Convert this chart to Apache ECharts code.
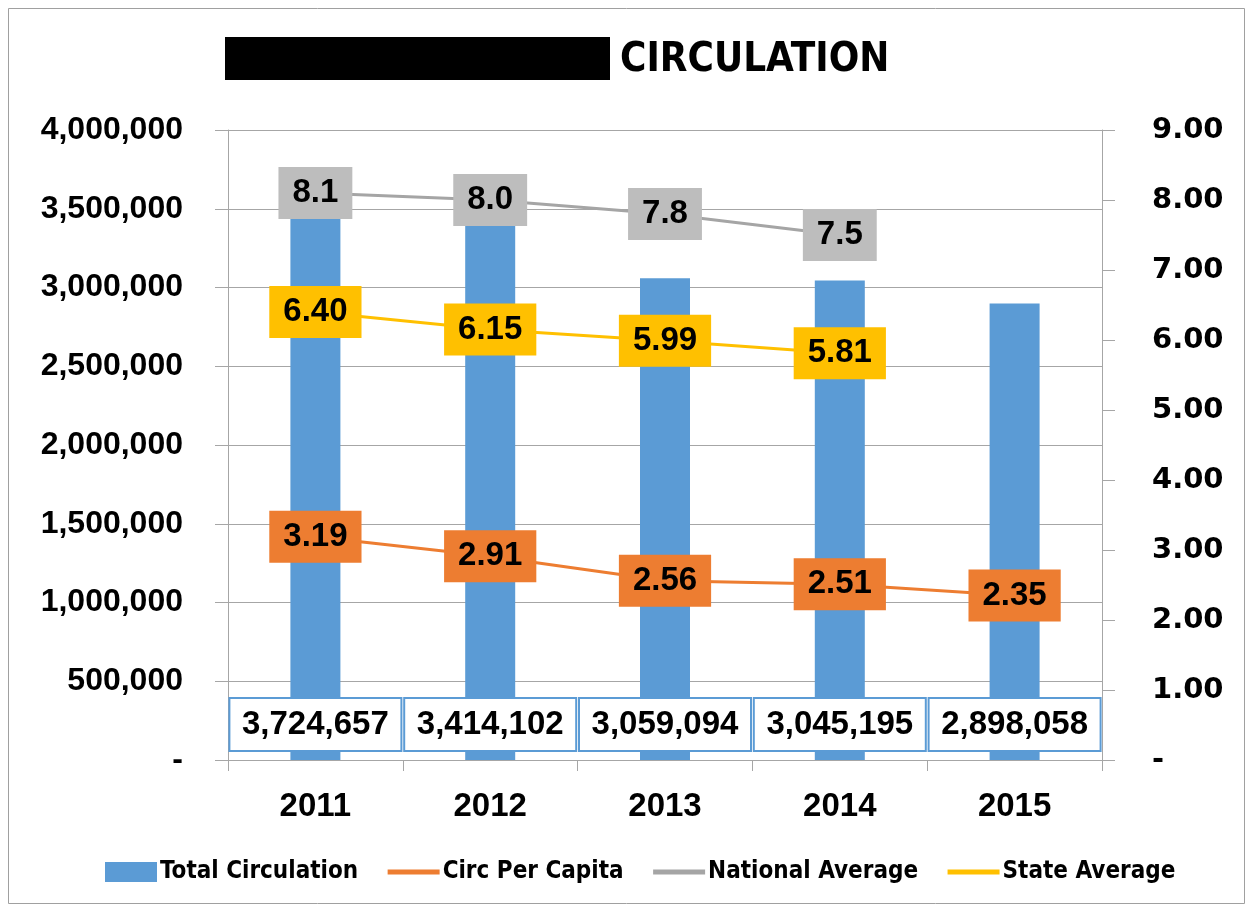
<!DOCTYPE html>
<html>
<head>
<meta charset="utf-8">
<script src="https://cdn.jsdelivr.net/npm/echarts@6/dist/echarts.min.js"></script>
<style>
  html, body { margin: 0; padding: 0; background: #fff; }
  #chart { width: 1252px; height: 906px; }
</style>
</head>
<body>
<div id="chart"></div>
<script>
const years = ["2011", "2012", "2013", "2014", "2015"];
const totalCirculation = [3724657, 3414102, 3059094, 3045195, 2898058];
const circPerCapita = [3.19, 2.91, 2.56, 2.51, 2.35];
const nationalAverage = [8.1, 8.0, 7.8, 7.5, null];
const stateAverage = [6.40, 6.15, 5.99, 5.81, null];

const numFont = "'Liberation Sans', Arial, sans-serif";
const narrowFont = "'Liberation Sans Narrow', 'DejaVu Sans Condensed', sans-serif";

const fmtThousands = (v) => (v === 0 ? "-" : v.toLocaleString("en-US"));

const lineLabel = (bg, digits) => ({
    show: true,
    position: "inside",
    formatter: (p) => p.value.toFixed(digits),
    color: "#000",
    fontFamily: numFont,
    fontWeight: "bold",
    fontSize: 33,
    backgroundColor: bg,
    padding: [10, 14, 9, 14],
});

const chart = echarts.init(document.getElementById("chart"));

const option = {
    animation: false,
    backgroundColor: "#fff",
    graphic: [
        {
            type: "rect",
            shape: { x: 8.5, y: 8.5, width: 1236, height: 895 },
            style: { fill: "none", stroke: "#a0a0a0", lineWidth: 1 },
            silent: true,
        },
        // redaction box in front of the title
        {
            type: "rect",
            shape: { x: 225, y: 37, width: 385, height: 43 },
            style: { fill: "#000" },
            silent: true,
        },
        {
            type: "text",
            left: 620,
            top: 41,
            style: {
                text: "CIRCULATION",
                fill: "#000",
                font: "bold 40px " + narrowFont,
            },
        },
    ],
    legend: {
        bottom: 17,
        left: 100,
        itemWidth: 52,
        itemHeight: 20,
        itemGap: 27,
        textStyle: {
            fontFamily: narrowFont,
            fontWeight: "bold",
            fontSize: 24,
            color: "#000",
            padding: [0, 0, 0, -2],
        },
        lineStyle: { width: 5 },
        data: [
            { name: "Total Circulation", icon: "rect" },
            { name: "Circ Per Capita", itemStyle: { opacity: 0 } },
            { name: "National Average", itemStyle: { opacity: 0 } },
            { name: "State Average", itemStyle: { opacity: 0 } },
        ],
    },
    grid: { left: 228, right: 150, top: 130, bottom: 146 },
    xAxis: {
        type: "category",
        data: years,
        axisLine: { lineStyle: { color: "#a6a6a6", width: 1 } },
        axisTick: { show: true, length: 11, lineStyle: { color: "#a6a6a6" } },
        axisLabel: {
            margin: 30,
            color: "#000",
            fontFamily: numFont,
            fontWeight: "bold",
            fontSize: 33,
        },
    },
    yAxis: [
        {
            type: "value",
            min: 0,
            max: 4000000,
            interval: 500000,
            axisLine: { show: true, lineStyle: { color: "#a6a6a6" } },
            axisTick: { show: true, length: 13, lineStyle: { color: "#a6a6a6" } },
            splitLine: { lineStyle: { color: "#a6a6a6", width: 1 } },
            axisLabel: {
                margin: 45,
                color: "#000",
                fontFamily: numFont,
                fontWeight: "bold",
                fontSize: 32,
                formatter: fmtThousands,
            },
        },
        {
            type: "value",
            min: 0,
            max: 9,
            interval: 1,
            axisLine: { show: true, lineStyle: { color: "#a6a6a6" } },
            axisTick: { show: true, length: 13, lineStyle: { color: "#a6a6a6" } },
            splitLine: { show: false },
            axisLabel: {
                margin: 50,
                color: "#000",
                fontFamily: "'DejaVu Sans', Verdana, sans-serif",
                fontWeight: "bold",
                fontSize: 29,
                formatter: (v) => (v === 0 ? "-   " : v.toFixed(2)),
            },
        },
    ],
    series: [
        {
            name: "Total Circulation",
            type: "bar",
            data: totalCirculation,
            barWidth: 50,
            itemStyle: { color: "#5b9bd5" },
            label: {
                show: true,
                position: "insideBottom",
                distance: 10,
                formatter: (p) => fmtThousands(p.value),
                color: "#000",
                fontFamily: numFont,
                fontWeight: "bold",
                fontSize: 33,
                backgroundColor: "#fff",
                borderColor: "#5b9bd5",
                borderWidth: 2,
                width: 170,
                height: 51,
                lineHeight: 51,
                align: "center",
            },
            z: 2,
        },
        {
            name: "Circ Per Capita",
            type: "line",
            yAxisIndex: 1,
            data: circPerCapita,
            symbol: "circle",
            symbolSize: 2,
            itemStyle: { color: "#ed7d31" },
            lineStyle: { color: "#ed7d31", width: 3 },
            label: lineLabel("#ed7d31", 2),
            z: 3,
        },
        {
            name: "National Average",
            type: "line",
            yAxisIndex: 1,
            data: nationalAverage,
            symbol: "circle",
            symbolSize: 2,
            itemStyle: { color: "#a5a5a5" },
            lineStyle: { color: "#a5a5a5", width: 3 },
            label: lineLabel("#bdbdbd", 1),
            z: 3,
        },
        {
            name: "State Average",
            type: "line",
            yAxisIndex: 1,
            data: stateAverage,
            symbol: "circle",
            symbolSize: 2,
            itemStyle: { color: "#ffc000" },
            lineStyle: { color: "#ffc000", width: 3 },
            label: lineLabel("#ffc000", 2),
            z: 3,
        },
    ],
};

chart.setOption(option);
</script>
</body>
</html>
